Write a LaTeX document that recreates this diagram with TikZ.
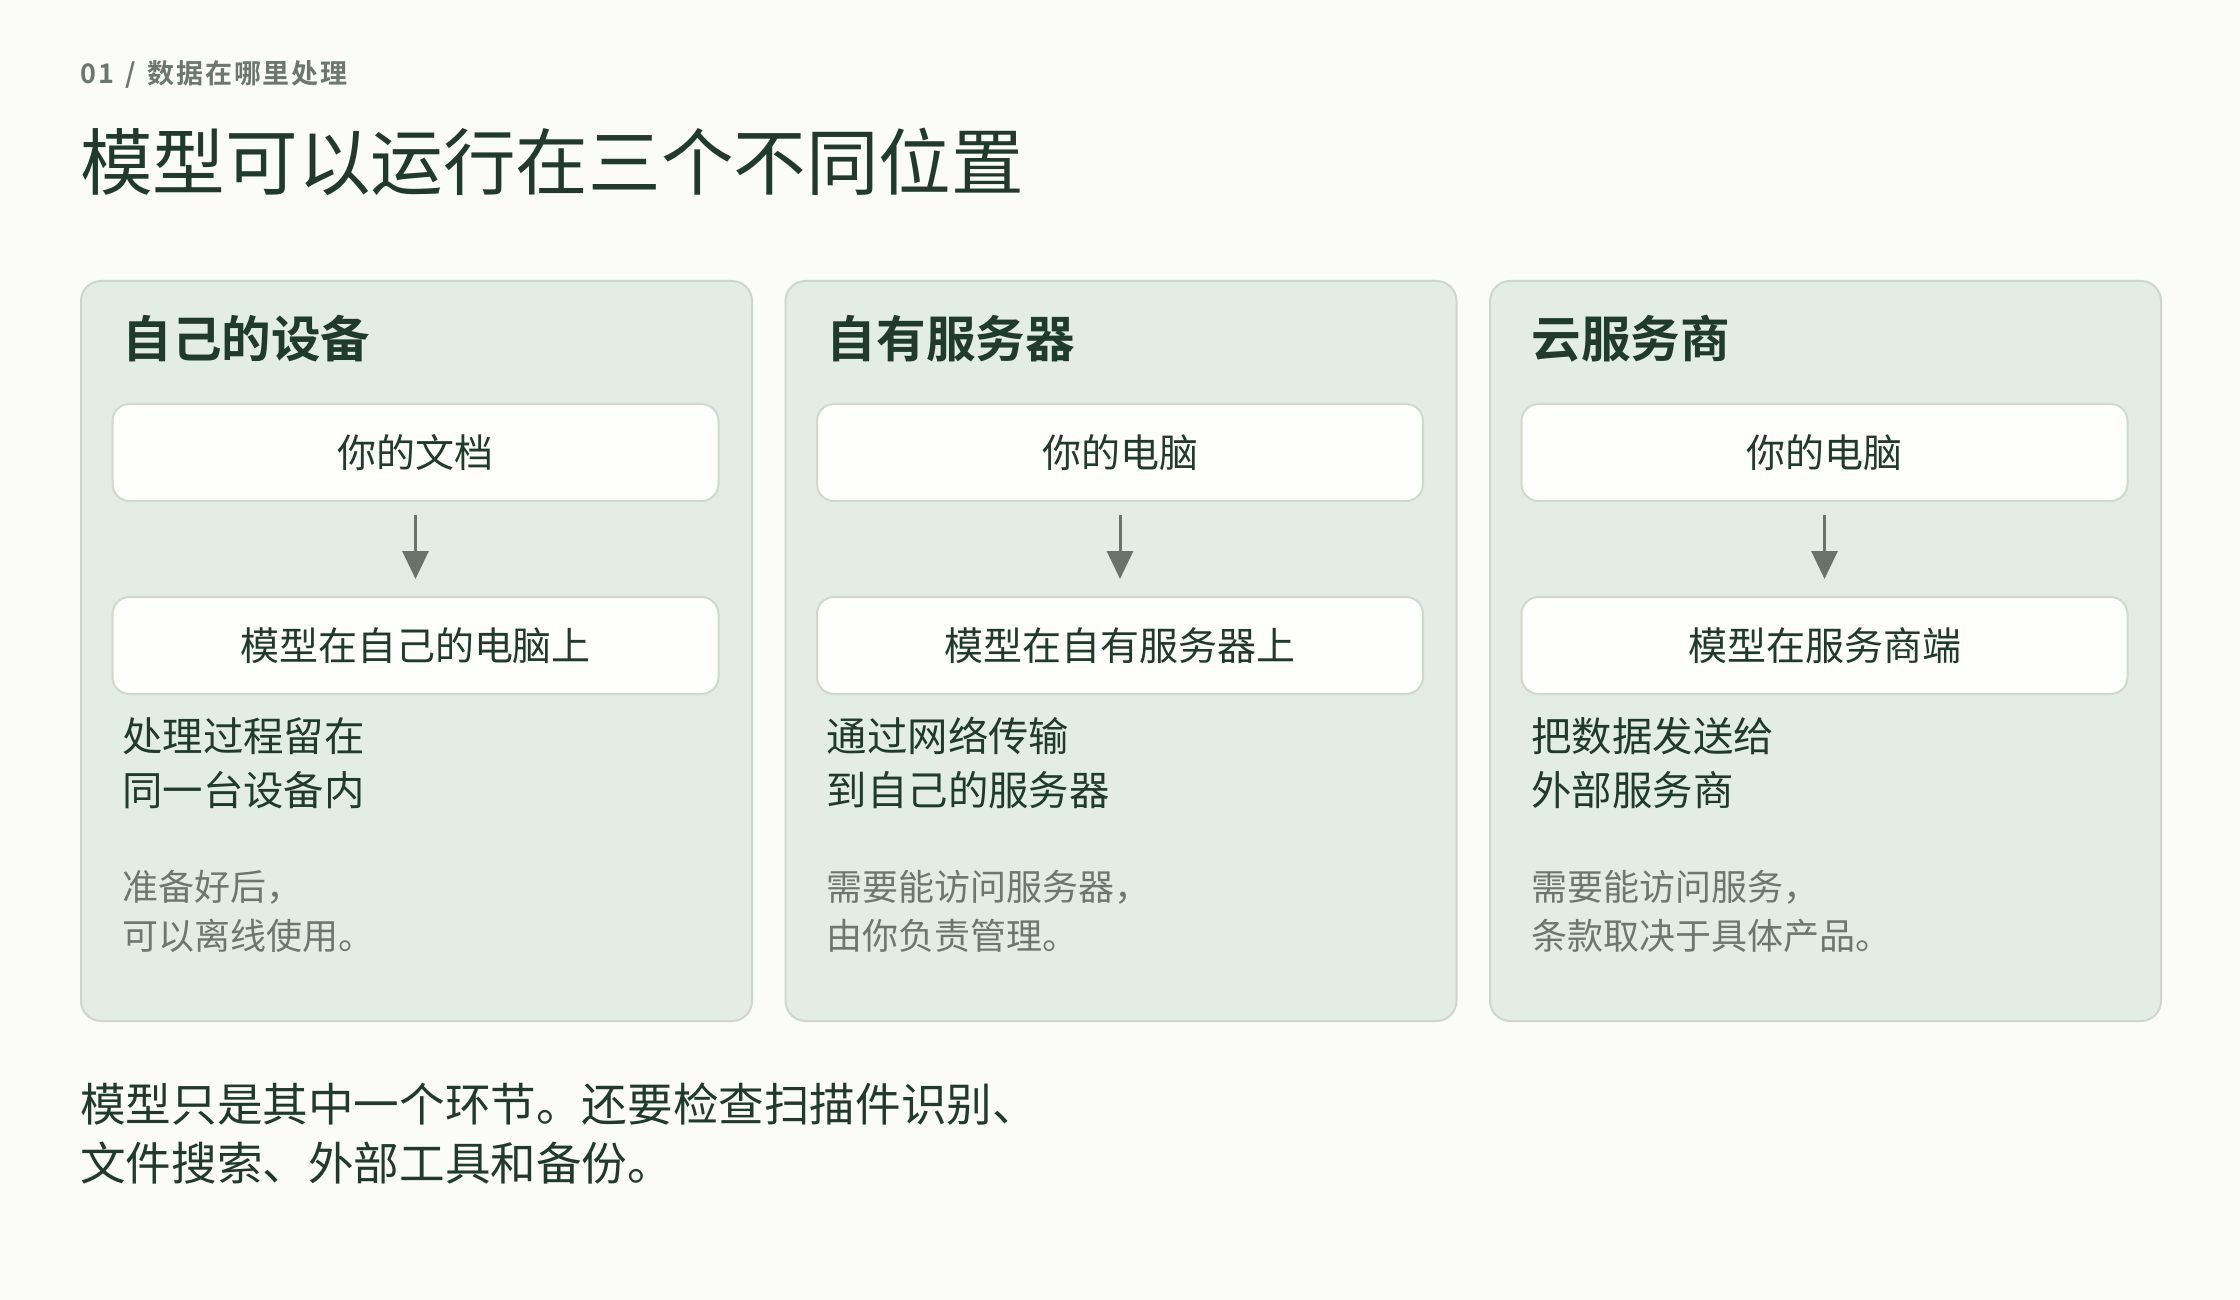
\documentclass[tikz,border=0pt]{standalone}
\usepackage{fontspec}
\setmainfont{Noto Sans CJK SC}[BoldFont={Noto Sans CJK SC Bold}]
\usetikzlibrary{arrows.meta}
\definecolor{bg}{HTML}{FBFBF7}
\definecolor{panelfill}{HTML}{E3EDE3}
\definecolor{panelline}{HTML}{CCD8CD}
\definecolor{boxfill}{HTML}{FEFEFC}
\definecolor{boxline}{HTML}{CFDACF}
\definecolor{ink}{HTML}{1F3B2C}
\definecolor{muted}{HTML}{6C7770}
\definecolor{arrowc}{HTML}{68736B}
\newcommand\kgap{\hspace{0.9pt}}
\tikzset{
  panel/.style={draw=panelline, line width=1pt, fill=panelfill, rounded corners=10pt,
    minimum width=335.5pt, minimum height=370pt, anchor=north west, inner sep=0pt},
  stepbox/.style={draw=boxline, line width=1pt, fill=boxfill, rounded corners=8.5pt,
    minimum width=303pt, minimum height=48.5pt, inner sep=0pt, text=ink,
    font=\fontsize{19.5pt}{24pt}\selectfont},
  heading/.style={anchor=west, inner sep=0pt, text=ink, font=\fontsize{24.8pt}{30pt}\selectfont\bfseries},
  body/.style={anchor=west, inner sep=0pt, text=ink, align=left, font=\fontsize{20.2pt}{27pt}\selectfont},
  note/.style={anchor=west, inner sep=0pt, text=muted, align=left, font=\fontsize{18pt}{24.4pt}\selectfont},
  flow/.style={draw=arrowc, line width=1.5pt, -{Triangle[length=14pt,width=13pt]}, shorten <=6.5pt, shorten >=8.5pt}
}
\begin{document}
\begin{tikzpicture}[x=0.5pt,y=-0.5pt]
\fill[bg] (0,0) rectangle (2240,1300);
\useasboundingbox (0,0) rectangle (2240,1300);

\node[anchor=west, inner sep=0pt, text=muted, font=\fontsize{13.5pt}{17pt}\selectfont\bfseries] (kicker) at (80,74) {0\hspace{1pt}1\hspace{5.5pt}/\hspace{6pt}数\kgap 据\kgap 在\kgap 哪\kgap 里\kgap 处\kgap 理};
\node[anchor=west, inner sep=0pt, text=ink, font=\fontsize{36.3pt}{44pt}\selectfont] (title) at (80,162) {模型可以运行在三个不同位置};

% panel 1
\node[panel] (p1) at (80,280) {};
\node[heading] (h1) at (122,338.6) {自己的设备};
\node[stepbox] (a1) at (415.5,452.5) {你的文档};
\node[stepbox] (b1) at (415.5,645.5) {模型在自己的电脑上};
\draw[flow] (a1) -- (b1);
\node[body] (t1) at (122,763) {处理过程留在\\同一台设备内};
\node[note] (n1) at (122,911.5) {准备好后，\\可以离线使用。};

% panel 2
\node[panel] (p2) at (784.5,280) {};
\node[heading] (h2) at (826.5,338.6) {自有服务器};
\node[stepbox] (a2) at (1120,452.5) {你的电脑};
\node[stepbox] (b2) at (1120,645.5) {模型在自有服务器上};
\draw[flow] (a2) -- (b2);
\node[body] (t2) at (826.5,763) {通过网络传输\\到自己的服务器};
\node[note] (n2) at (826.5,911.5) {需要能访问服务器，\\由你负责管理。};

% panel 3
\node[panel] (p3) at (1489,280) {};
\node[heading] (h3) at (1531,338.6) {云服务商};
\node[stepbox] (a3) at (1824.5,452.5) {你的电脑};
\node[stepbox] (b3) at (1824.5,645.5) {模型在服务商端};
\draw[flow] (a3) -- (b3);
\node[body] (t3) at (1531,763) {把数据发送给\\外部服务商};
\node[note] (n3) at (1531,911.5) {需要能访问服务，\\条款取决于具体产品。};

\node[anchor=west, inner sep=0pt, text=ink, align=left, font=\fontsize{22.8pt}{29.3pt}\selectfont] (footer) at (80,1133.5) {模型只是其中一个环节。还要检查扫描件识别、\\文件搜索、外部工具和备份。};
\end{tikzpicture}
\end{document}
